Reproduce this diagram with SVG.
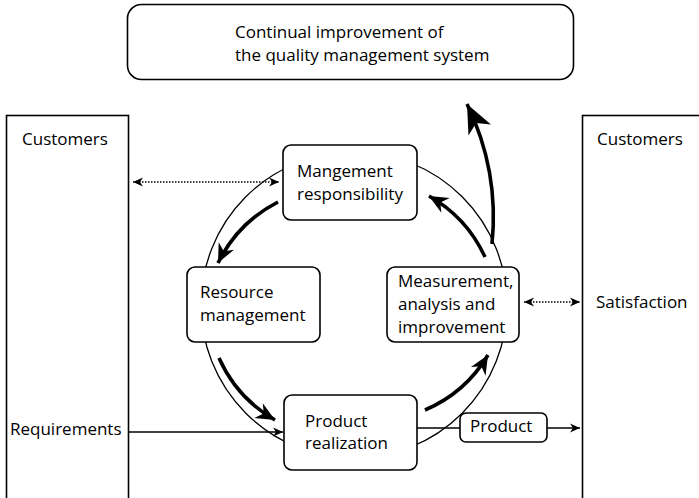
<svg xmlns="http://www.w3.org/2000/svg" width="699" height="498" viewBox="0 0 699 498">
<style>
text{font-family:"Open Sans","Noto Sans","Liberation Sans",sans-serif;font-size:17px;fill:#000}
.box{fill:#fff;stroke:#000;stroke-width:1.6}
.thin{fill:none;stroke:#000;stroke-width:1.3}
.dot{fill:none;stroke:#000;stroke-width:1.3;stroke-dasharray:1.5 1.5}
.thick{fill:none;stroke:#000;stroke-width:3.6}
</style>
<defs>
<marker id="sa" viewBox="-10 -5 11 10" refX="0" refY="0" markerWidth="11" markerHeight="10" markerUnits="userSpaceOnUse" orient="auto-start-reverse">
<path d="M0,0 L-10,-4.5 L-7,0 L-10,4.5 Z" fill="#000"/>
</marker>
<marker id="ta" viewBox="-20 -9 21 18" refX="0" refY="0" markerWidth="21" markerHeight="18" markerUnits="userSpaceOnUse" orient="auto">
<path d="M0,0 L-19,-8.5 L-13,0 L-19,8.5 Z" fill="#000"/>
</marker>
<marker id="ba" viewBox="-30 -13 31 26" refX="0" refY="0" markerWidth="31" markerHeight="26" markerUnits="userSpaceOnUse" orient="auto">
<path d="M0,0 L-29,-12.5 L-21,0 L-29,12.5 Z" fill="#000"/>
</marker>
</defs>

<g id="top-box">
<rect class="box" x="127.5" y="4.5" width="446" height="75" rx="14"/>
<text x="235" y="38">Continual improvement of</text>
<text x="235" y="61">the quality management system</text>
</g>

<g id="customers-left">
<rect class="box" x="6.5" y="115.5" width="122" height="400"/>
<text x="22" y="145">Customers</text>
<text x="10" y="435">Requirements</text>
</g>

<g id="customers-right">
<rect class="box" x="582.5" y="115.5" width="130" height="400"/>
<text x="597" y="145">Customers</text>
<text x="596" y="308">Satisfaction</text>
</g>

<g id="connectors">
<circle class="thin" cx="354" cy="305" r="153"/>
<line class="dot" x1="133" y1="182" x2="279" y2="182" marker-start="url(#sa)" marker-end="url(#sa)"/>
<line class="dot" x1="524" y1="302" x2="580" y2="302" marker-start="url(#sa)" marker-end="url(#sa)"/>
<line class="thin" x1="129" y1="432" x2="283" y2="432" marker-end="url(#sa)"/>
<line class="thin" x1="417" y1="428" x2="460" y2="428"/>
<line class="thin" x1="547" y1="428" x2="580" y2="428" marker-end="url(#sa)"/>
<path class="thick" d="M278,202 A135,135 0 0 0 218,263" marker-end="url(#ta)"/>
<path class="thick" d="M219,358 A135,135 0 0 0 275,420" marker-end="url(#ta)"/>
<path class="thick" d="M425,410 A135,135 0 0 0 488,355" marker-end="url(#ta)"/>
<path class="thick" d="M485,257 A135,135 0 0 0 429,196" marker-end="url(#ta)"/>
<path class="thick" d="M492,244 A260,260 0 0 0 467,104" marker-end="url(#ba)"/>
</g>

<g id="management-responsibility">
<rect class="box" x="283" y="145" width="134" height="75" rx="8"/>
<text x="297" y="177">Mangement</text>
<text x="297" y="200">responsibility</text>
</g>

<g id="resource-management">
<rect class="box" x="187" y="267" width="133" height="75" rx="8"/>
<text x="200" y="298">Resource</text>
<text x="200" y="321">management</text>
</g>

<g id="measurement">
<rect class="box" x="387" y="267" width="132" height="75" rx="8"/>
<text x="398" y="287">Measurement,</text>
<text x="398" y="310">analysis and</text>
<text x="398" y="333">improvement</text>
</g>

<g id="product-realization">
<rect class="box" x="284" y="395" width="133" height="75" rx="8"/>
<text x="305" y="427">Product</text>
<text x="305" y="449">realization</text>
</g>

<g id="product">
<rect class="box" x="460" y="413" width="87" height="29" rx="6"/>
<text x="470" y="432">Product</text>
</g>
</svg>
